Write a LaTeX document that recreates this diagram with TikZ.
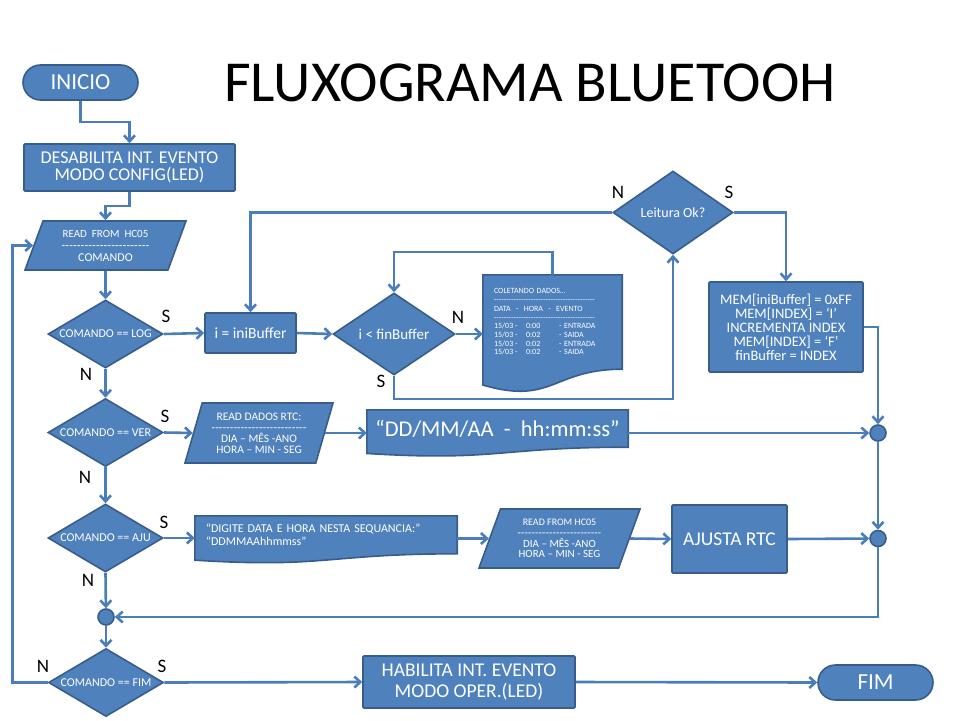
\documentclass[tikz,border=0pt]{standalone}
\usepackage{fontspec}
\setmainfont{Carlito}
\usetikzlibrary{arrows.meta, positioning, shapes.geometric, shapes.misc, calc, backgrounds}

\definecolor{fluxfill}{HTML}{4F81BD}
\definecolor{fluxedge}{HTML}{385D8A}
\definecolor{fluxline}{HTML}{4A7EBB}

\newcommand{\tracos}[1]{\makebox[#1]{\xleaders\hbox{-}\hfill}}
\newcommand{\docoutline}[1]{%
  \path[docshape] (#1.north west) -- (#1.north east) -- (#1.south east)
    .. controls (#1.south) and ($(#1.north)!1.384!(#1.south)$)
    .. ($(#1.north west)!1.1675!(#1.south west)$) -- cycle;}

\begin{document}
\begin{tikzpicture}[
    x=1pt, y=-1pt,
    >={Straight Barb[length=6pt, width=11pt]},
    font=\fontsize{12}{12}\selectfont,
    shapebase/.style={draw=fluxedge, line width=1.6pt, fill=fluxfill, text=white, inner sep=0pt, align=center},
    term/.style={shapebase, rounded rectangle, minimum width=115pt, minimum height=35pt, font=\fontsize{23}{23}\selectfont},
    box/.style={shapebase, rectangle, rounded corners=1pt},
    decision/.style={shapebase, diamond, aspect=1.7, minimum width=115pt, minimum height=68pt},
    io/.style={shapebase, trapezium, trapezium stretches body},
    doc/.style={text=white, inner sep=0pt, align=left},
    docshape/.style={draw=fluxedge, line width=1.6pt, fill=fluxfill},
    junction/.style={circle, draw=fluxedge, fill=fluxfill, line width=1.6pt, minimum size=16pt, inner sep=0pt},
    fluxo/.style={->, draw=fluxline, line width=2.6pt},
    rotulo/.style={font=\fontsize{19}{19}\selectfont, text=black}
]
\useasboundingbox (0,0) rectangle (960,720);

\node[font=\fontsize{58}{58}\selectfont] (titulo) at (530,83) {FLUXOGRAMA BLUETOOH};

% coluna principal
\node[term] (inicio) at (80.5,82.5) {INICIO};
\node[box, minimum width=211pt, minimum height=47pt, font=\fontsize{18}{17}\selectfont] (desab) at (129.5,167.5) {DESABILITA INT. EVENTO\\MODO CONFIG(LED)};
\node[io, trapezium left angle=60, trapezium right angle=120, minimum width=161pt, minimum height=49pt, font=\fontsize{12}{12}\selectfont] (lerhc) at (105.5,245.5) {{\fontsize{11}{12}\selectfont READ\ \ FROM\ \ HC05}\\\tracos{88pt}\\COMANDO};
\node[decision] (cmdlog) at (105.5,334) {COMANDO == LOG};
\node[decision] (cmdver) at (105.5,432.5) {COMANDO == VER};
\node[decision] (cmdaju) at (105.5,538) {COMANDO == AJU};
\node[junction] (j3) at (106,617) {};
\node[decision] (cmdfim) at (106,682.5) {COMANDO == FIM};

% ramo LOG
\node[box, minimum width=91pt, minimum height=40pt, font=\fontsize{15.5}{15.5}\selectfont] (ibuf) at (250.5,333) {i = iniBuffer};
\node[decision, minimum width=122pt, minimum height=82pt, font=\fontsize{15}{15}\selectfont] (cmpfin) at (394,334) {i < finBuffer};
\node[doc, minimum width=139pt, minimum height=94pt, text width=117pt, font=\fontsize{8}{8.7}\selectfont] (coleta) at (552.5,322) {COLETANDO DADOS…\\\tracos{101pt}\\DATA\ \ -\ \ HORA\ \ -\ \ EVENTO\\\tracos{101pt}\\
  \makebox[21pt][l]{15/03}\makebox[11pt][l]{-}\makebox[33pt][l]{0:00}- ENTRADA\\
  \makebox[21pt][l]{15/03}\makebox[11pt][l]{-}\makebox[33pt][l]{0:02}- SAIDA\\
  \makebox[21pt][l]{15/03}\makebox[11pt][l]{-}\makebox[33pt][l]{0:02}- ENTRADA\\
  \makebox[21pt][l]{15/03}\makebox[11pt][l]{-}\makebox[33pt][l]{0:02}- SAIDA};
\node[decision, minimum width=120pt, minimum height=83pt, font=\fontsize{14}{14}\selectfont] (leitura) at (673,212.5) {Leitura Ok?};
\node[box, minimum width=154pt, minimum height=90pt, font=\fontsize{14.5}{14}\selectfont] (mem) at (786,327) {MEM[iniBuffer] = 0xFF\\MEM[INDEX] = ‘I’\\INCREMENTA INDEX\\MEM[INDEX] = ‘F’\\finBuffer = INDEX};

% ramo VER
\node[io, trapezium left angle=67, trapezium right angle=113, minimum width=148pt, minimum height=60pt, font=\fontsize{11.5}{11}\selectfont] (lerrtc) at (259,433) {READ DADOS RTC:\\\tracos{95pt}\\DIA – MÊS -ANO\\HORA – MIN - SEG};
\node[doc, minimum width=261pt, minimum height=37pt, font=\fontsize{22.5}{22.5}\selectfont] (mostra) at (497.5,428.5) {“DD/MM/AA\ \ -\ \ hh:mm:ss”};

% ramo AJU
\node[doc, minimum width=262pt, minimum height=37.6pt, text width=240pt, font=\fontsize{12}{12.5}\selectfont] (digite) at (326,534.8) {“DIGITE DATA E HORA NESTA SEQUANCIA:”\\“DDMMAAhhmmss”};
\node[io, trapezium left angle=61, trapezium right angle=119, minimum width=161pt, minimum height=59pt, font=\fontsize{11}{10.7}\selectfont] (lerhc2) at (559.5,538.5) {{\fontsize{10}{10.7}\selectfont READ FROM HC05}\\\tracos{84pt}\\DIA – MÊS -ANO\\HORA – MIN - SEG};
\node[box, minimum width=115pt, minimum height=68pt, font=\fontsize{19.5}{19.5}\selectfont] (ajusta) at (729.5,539) {AJUSTA RTC};
\node[junction] (j1) at (878,433) {};
\node[junction] (j2) at (878,538.5) {};

% fim
\node[box, minimum width=212pt, minimum height=52pt, font=\fontsize{19.5}{21}\selectfont] (habil) at (469,682) {HABILITA INT. EVENTO\\MODO OPER.(LED)};
\node[term] (fim) at (875.5,682.5) {FIM};

% rotulos S/N
\node[rotulo] (sLog) at (166,316) {S};
\node[rotulo] (nLog) at (86,374) {N};
\node[rotulo] (sVer) at (165,416) {S};
\node[rotulo] (nVer) at (85,477) {N};
\node[rotulo] (sAju) at (164,522) {S};
\node[rotulo] (nAju) at (88,580) {N};
\node[rotulo] (nFin) at (458,317) {N};
\node[rotulo] (sFin) at (381,381) {S};
\node[rotulo] (nLei) at (618,192) {N};
\node[rotulo] (sLei) at (729,192) {S};
\node[rotulo] (nFim) at (43,666) {N};
\node[rotulo] (sFim) at (162,666) {S};

\begin{scope}[on background layer]
\docoutline{coleta}
\docoutline{mostra}
\docoutline{digite}
\end{scope}

\draw[fluxo] (inicio.south) -- ++(0,21) -| (desab.north);
\draw[fluxo] (desab.south) -- ++(0,14) -| (lerhc.north);
\draw[fluxo] (lerhc.south) -- (cmdlog.north);
\draw[fluxo] (cmdlog.east) -- (ibuf.west);
\draw[fluxo] (ibuf.east) -- (cmpfin.west);
\draw[fluxo] (cmpfin.east) -- (cmpfin.east -| coleta.west);
\draw[fluxo] (coleta.north) -- ++(0,-23) -| (cmpfin.north);
\draw[fluxo] (cmpfin.south) -- ++(0,23) -| (leitura.south);
\draw[fluxo] (leitura.west) -| (ibuf.north);
\draw[fluxo] (leitura.east) -| (mem.north);
\draw[fluxo] (mem.east) -| (j1.north);
\draw[fluxo] (cmdlog.south) -- (cmdver.north);
\draw[fluxo] (cmdver.east) -- (lerrtc.west);
\draw[fluxo] (lerrtc.east) -- (lerrtc.east -| mostra.west);
\draw[fluxo] (j1 -| mostra.east) -- (j1);
\draw[fluxo] (j1) -- (j2);
\draw[fluxo] (cmdver.south) -- (cmdaju.north);
\draw[fluxo] (cmdaju.east) -- (cmdaju.east -| digite.west);
\draw[fluxo] (lerhc2.west -| digite.east) -- (lerhc2.west);
\draw[fluxo] (lerhc2.east) -- (ajusta.west);
\draw[fluxo] (ajusta.east) -- (j2);
\draw[fluxo] (j2) |- (j3);
\draw[fluxo] (cmdaju.south) -- (j3);
\draw[fluxo] (j3) -- (cmdfim.north);
\draw[fluxo] (cmdfim.west) -- ++(-35,0) |- (lerhc.west);
\draw[fluxo] (cmdfim.east) -- (habil.west);
\draw[fluxo] (habil.east) -- (fim.west);
\end{tikzpicture}
\end{document}
